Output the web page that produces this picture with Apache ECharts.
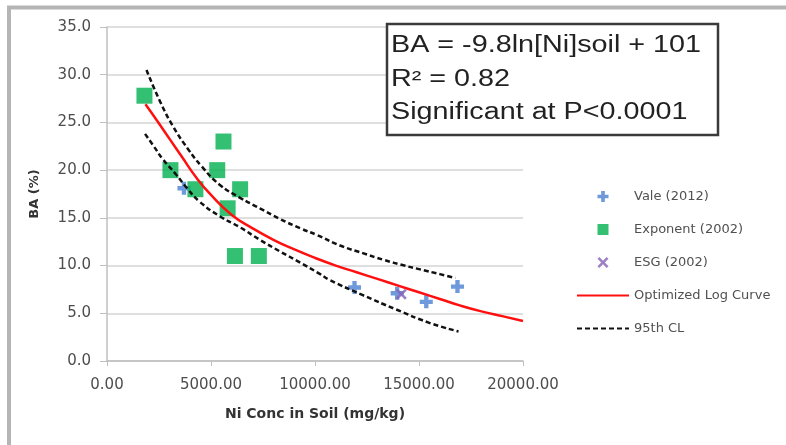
<!DOCTYPE html>
<html>
<head>
<meta charset="utf-8">
<script src="https://cdn.jsdelivr.net/npm/echarts@6/dist/echarts.min.js"></script>
<style>
  html, body { margin: 0; padding: 0; background: #fff; }
  #main { width: 786px; height: 445px; }
</style>
</head>
<body>
<div id="main"></div>
<script>
  // points
  const valeX = [3700, 11900, 13950, 15350, 16850];
  const valeY = [18.1, 7.7, 7.1, 6.2, 7.8];

  const exponentX = [1800, 5600, 3050, 5300, 4250, 6400, 5800, 6150, 7300];
  const exponentY = [27.8, 23.0, 20.0, 20.0, 18.0, 18.0, 16.0, 11.0, 11.0];

  const esgX = [14150];
  const esgY = [7.0];

  const logX = [1850, 2400, 3000, 3600, 4300, 5000, 6000, 7000, 8000, 9000, 10000, 11000, 12000, 13000, 14000, 15000, 16000, 17000, 18000, 19000, 20000];
  const logY = [26.9, 25.2, 23.3, 21.4, 19.2, 17.4, 15.3, 13.9, 12.7, 11.7, 10.8, 10.0, 9.3, 8.6, 7.9, 7.2, 6.5, 5.8, 5.2, 4.7, 4.2];

  const upperX = [1900, 2550, 3200, 3900, 4550, 5400, 6400, 7350, 8300, 9300, 10100, 11200, 12300, 13300, 14300, 15050, 16000, 16750];
  const upperY = [30.5, 27.2, 24.5, 22.2, 20.4, 18.5, 17.1, 16.0, 14.9, 13.9, 13.2, 12.1, 11.3, 10.6, 10.0, 9.6, 9.1, 8.7];

  const lowerX = [1830, 2250, 2700, 3300, 3850, 4450, 5400, 6400, 7350, 8300, 9300, 10250, 10700, 12300, 13900, 15500, 16900];
  const lowerY = [23.8, 22.5, 21.1, 19.6, 18.1, 16.7, 15.2, 14.0, 12.7, 11.5, 10.3, 9.1, 8.5, 6.9, 5.4, 4.0, 3.1];

  const legendNames = ['Vale (2012)', 'Exponent (2002)', 'ESG (2002)', 'Optimized Log Curve', '95th CL'];
  const boxLines = ['BA = -9.8ln[Ni]soil + 101', 'R\u00b2 = 0.82', 'Significant at P<0.0001'];

  const pairs = (xs, ys) => xs.map((x, i) => [x, ys[i]]);

  const plusPath = 'path://M4,0L8,0L8,4L12,4L12,8L8,8L8,12L4,12L4,8L0,8L0,4L4,4Z';
  const crossPath = 'path://M0,2L2,0L6,4L10,0L12,2L8,6L12,10L10,12L6,8L2,12L0,10L4,6Z';
  const squarePath = 'path://M0,0L10,0L10,10L0,10Z';

  let chart = echarts.init(document.getElementById('main'));

  let dashed = {
    color: '#111',
    width: 2.5,
    type: [5, 3]
  };
  // hide the little symbol echarts puts on line legend icons
  let noSymbol = { color: 'rgba(0,0,0,0)', borderWidth: 0, opacity: 0 };

  let option = {
    animation: false,
    backgroundColor: '#fff',
    textStyle: { fontFamily: 'DejaVu Sans' },
    grid: {
      left: 107,
      right: 263,
      top: 27,
      bottom: 84
    },
    legend: {
      data: [
        { name: legendNames[0] },
        { name: legendNames[1] },
        { name: legendNames[2] },
        { name: legendNames[3], itemStyle: noSymbol },
        { name: legendNames[4], itemStyle: noSymbol }
      ],
      orient: 'vertical',
      left: 571,
      top: 185,
      itemWidth: 52,
      itemHeight: 11,
      itemGap: 20,
      textStyle: {
        fontSize: 13,
        color: '#505050',
        fontFamily: 'DejaVu Sans'
      }
    },
    xAxis: {
      type: 'value',
      min: 0,
      max: 20000,
      interval: 5000,
      name: 'Ni Conc in Soil (mg/kg)',
      nameLocation: 'middle',
      nameGap: 46,
      nameTextStyle: {
        fontSize: 14,
        fontWeight: 'bold',
        color: '#333'
      },
      axisLine: { lineStyle: { color: '#bfbfbf', width: 1.5 } },
      axisTick: { show: true, length: 5, lineStyle: { color: '#bfbfbf' } },
      axisLabel: {
        margin: 17,
        fontSize: 15,
        color: '#4d4d4d',
        formatter: v => v.toFixed(2)
      },
      splitLine: { show: false }
    },
    yAxis: {
      type: 'value',
      min: 0,
      max: 35,
      interval: 5,
      name: 'BA (%)',
      nameLocation: 'middle',
      nameGap: 66,
      nameTextStyle: {
        fontSize: 13,
        fontWeight: 'bold',
        color: '#333'
      },
      axisLine: { show: true, lineStyle: { color: '#bfbfbf', width: 1.5 } },
      axisTick: { show: true, length: 7, lineStyle: { color: '#bfbfbf' } },
      axisLabel: {
        margin: 16,
        fontSize: 15,
        color: '#4d4d4d',
        formatter: v => v.toFixed(1)
      },
      splitLine: { lineStyle: { color: '#d4d4d4', width: 1.5 } }
    },
    graphic: [
      {
        type: 'rect',
        shape: { x: 9, y: 7.5, width: 900, height: 600 },
        style: { fill: 'none', stroke: '#b5b5b5', lineWidth: 4 },
        silent: true
      },
      {
        type: 'rect',
        shape: { x: 387, y: 24, width: 331, height: 111 },
        style: { fill: '#fff', stroke: '#3a3a3a', lineWidth: 2.5 },
        z: 10
      },
      {
        type: 'text',
        x: 391, y: 46, scaleX: 1.25,
        style: { text: boxLines[0], font: '23px "Liberation Sans"', fill: '#222', verticalAlign: 'middle' },
        z: 11
      },
      {
        type: 'text',
        x: 391, y: 80, scaleX: 1.25,
        style: { text: boxLines[1], font: '23px "Liberation Sans"', fill: '#222', verticalAlign: 'middle' },
        z: 11
      },
      {
        type: 'text',
        x: 391, y: 113, scaleX: 1.25,
        style: { text: boxLines[2], font: '23px "Liberation Sans"', fill: '#222', verticalAlign: 'middle' },
        z: 11
      }
    ],
    series: [
      {
        name: 'Vale (2012)',
        type: 'scatter',
        symbol: plusPath,
        symbolSize: 13,
        itemStyle: { color: '#4a80d2' },
        data: pairs(valeX, valeY),
        z: 2
      },
      {
        name: 'Exponent (2002)',
        type: 'scatter',
        symbol: squarePath,
        symbolSize: 16,
        itemStyle: { color: '#00b050' },
        data: pairs(exponentX, exponentY),
        z: 3
      },
      {
        name: 'ESG (2002)',
        type: 'scatter',
        symbol: crossPath,
        symbolSize: 11,
        itemStyle: { color: '#8660b8' },
        data: pairs(esgX, esgY),
        z: 3
      },
      {
        name: 'Optimized Log Curve',
        type: 'line',
        smooth: true,
        symbol: 'none',
        clip: false,
        lineStyle: { color: '#ff1010', width: 2.5 },
        itemStyle: { color: '#ff1010' },
        data: pairs(logX, logY),
        z: 4
      },
      {
        name: '95th CL',
        type: 'line',
        smooth: true,
        symbol: 'none',
        clip: false,
        lineStyle: dashed,
        itemStyle: { color: '#111' },
        data: pairs(upperX, upperY),
        z: 4
      },
      {
        name: '95th CL',
        type: 'line',
        smooth: true,
        symbol: 'none',
        clip: false,
        lineStyle: dashed,
        itemStyle: { color: '#111' },
        data: pairs(lowerX, lowerY),
        z: 4
      }
    ]
  };
  chart.setOption(option);
</script>
</body>
</html>
